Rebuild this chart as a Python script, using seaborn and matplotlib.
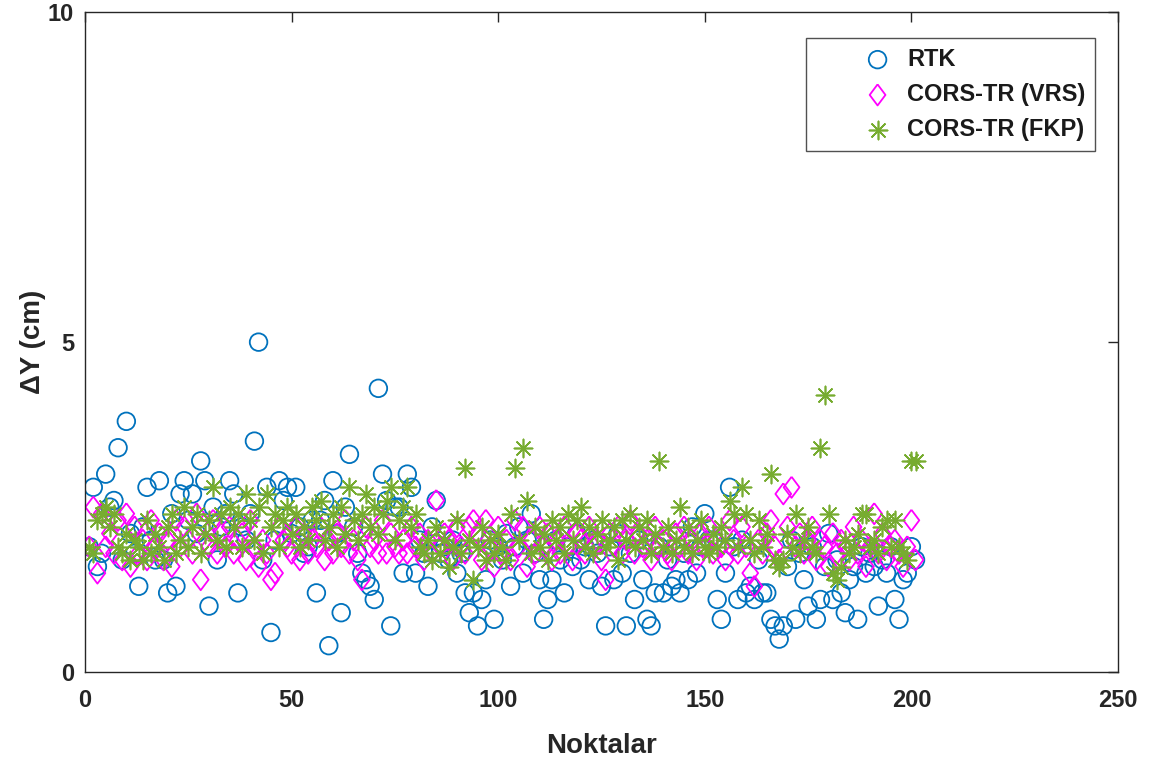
import numpy as np
import pandas as pd
import matplotlib
matplotlib.use("Agg")
import matplotlib.pyplot as plt
import seaborn as sns

rtk = [1.9, 2.8, 1.6, 1.8, 3.0, 2.5, 2.6, 3.4, 1.7, 3.8,
       2.1, 1.8, 1.3, 2.2, 2.8, 2.0, 1.7, 2.9, 1.7, 1.2,
       2.4, 1.3, 2.7, 2.9, 2.3, 2.7, 2.1, 3.2, 2.9, 1.0,
       2.5, 1.7, 2.2, 2.4, 2.9, 2.7, 1.2, 2.2, 2.0, 2.4,
       3.5, 5.0, 1.7, 2.8, 0.6, 2.0, 2.9, 2.6, 2.8, 2.1,
       2.8, 2.2, 1.8, 1.9, 2.3, 1.2, 2.3, 2.6, 0.4, 2.9,
       2.1, 0.9, 2.5, 3.3, 2.2, 1.8, 1.5, 1.4, 1.3, 1.1,
       4.3, 3.0, 2.6, 0.7, 2.5, 2.5, 1.5, 3.0, 2.8, 1.5,
       2.0, 1.8, 1.3, 2.2, 2.6, 1.8, 1.9, 1.7, 2.0, 1.5,
       1.8, 1.2, 0.9, 1.2, 0.7, 1.1, 1.4, 2.0, 0.8, 1.9,
       1.7, 2.1, 1.3, 1.9, 2.2, 1.5, 2.0, 2.4, 1.8, 1.4,
       0.8, 1.1, 1.4, 2.0, 1.7, 1.2, 1.9, 1.6, 2.1, 1.7,
       1.9, 1.4, 2.0, 1.8, 1.3, 0.7, 1.9, 1.4, 2.1, 1.5,
       0.7, 1.8, 1.1, 2.0, 1.4, 0.8, 0.7, 1.2, 1.9, 1.2,
       1.7, 1.3, 1.4, 1.2, 1.8, 1.4, 2.2, 1.5, 1.9, 2.4,
       2.0, 2.0, 1.1, 0.8, 1.5, 2.8, 1.9, 1.1, 2.0, 1.2,
       1.3, 1.1, 1.7, 1.2, 1.2, 0.8, 0.7, 0.5, 0.7, 1.6,
       2.0, 0.8, 1.8, 1.4, 1.0, 1.9, 0.8, 1.1, 1.6, 2.1,
       1.1, 1.7, 1.2, 0.9, 1.4, 1.6, 0.8, 1.9, 1.5, 1.8,
       1.6, 1.0, 1.7, 1.5, 1.9, 1.1, 0.8, 1.4, 1.5, 1.9,
       1.7]

vrs = [1.9, 2.5, 1.5, 2.4, 1.9, 2.1, 1.8, 2.3, 1.7, 2.4,
       1.6, 2.2, 1.8, 2.0, 1.7, 2.3, 1.9, 2.1, 1.7, 2.0,
       1.6, 2.3, 1.9, 2.2, 2.0, 1.8, 2.4, 1.4, 2.0, 1.9,
       2.3, 1.8, 2.1, 1.9, 2.2, 1.8, 2.0, 2.1, 1.7, 2.3,
       1.9, 1.6, 2.0, 1.8, 1.4, 1.5, 2.2, 2.0, 1.9, 1.8,
       2.2, 1.7, 2.1, 1.8, 2.0, 1.9, 2.2, 1.7, 2.0, 1.8,
       2.1, 1.9, 2.3, 1.8, 2.0, 1.7, 1.4, 2.2, 1.9, 2.0,
       1.8, 2.3, 1.8, 2.1, 1.9, 1.8, 2.0, 1.8, 2.2, 1.9,
       2.1, 1.7, 2.0, 1.8, 2.6, 1.9, 2.1, 2.0, 1.7, 2.2,
       1.9, 1.8, 2.2, 2.3, 2.1, 1.7, 2.3, 1.9, 1.6, 2.2,
       1.8, 2.0, 1.7, 2.3, 1.9, 2.2, 1.6, 2.0, 1.8, 2.2,
       1.9, 2.1, 1.7, 2.0, 1.8, 2.2, 1.9, 1.7, 2.1, 2.0,
       1.8, 2.2, 1.9, 2.0, 1.7, 1.4, 2.1, 1.9, 2.2, 1.8,
       2.0, 2.3, 1.8, 2.1, 1.9, 2.0, 1.7, 2.2, 1.9, 2.0,
       1.8, 1.7, 2.1, 1.9, 2.2, 1.8, 2.0, 1.7, 2.1, 1.9,
       2.2, 1.8, 2.0, 1.9, 1.7, 2.3, 2.0, 1.8, 2.2, 1.9,
       1.5, 1.3, 2.0, 1.8, 2.1, 2.3, 1.9, 1.7, 2.7, 2.2,
       2.8, 1.9, 2.1, 1.8, 2.0, 2.2, 1.7, 2.0, 1.9, 1.6,
       2.1, 1.8, 2.0, 1.9, 1.7, 2.2, 1.8, 2.0, 1.6, 1.9,
       2.4, 1.8, 2.1, 1.7, 1.9, 2.0, 1.8, 1.6, 1.9, 2.3,
       1.7]

fkp = [1.9, 1.8, 2.3, 2.4, 2.5, 2.2, 2.4, 1.9, 1.8, 2.1,
       1.7, 2.0, 1.9, 1.7, 2.3, 1.8, 2.1, 1.9, 1.7, 2.2,
       2.4, 1.8, 2.0, 2.5, 1.9, 2.2, 2.4, 1.8, 2.1, 2.3,
       2.8, 2.0, 2.4, 1.9, 2.5, 2.2, 2.4, 1.9, 2.7, 2.3,
       2.0, 2.5, 1.8, 2.7, 2.2, 2.4, 1.9, 2.3, 2.5, 2.1,
       2.4, 1.9, 2.2, 2.0, 2.5, 2.3, 2.6, 2.0, 2.2, 2.4,
       1.9, 2.5, 2.1, 2.8, 2.3, 2.0, 2.4, 2.7, 2.2, 2.5,
       2.1, 2.4, 2.6, 2.8, 2.0, 2.3, 2.5, 2.8, 2.2, 2.4,
       1.9, 1.8, 2.0, 1.7, 2.2, 1.8, 2.0, 1.6, 1.9, 2.3,
       1.8, 3.1, 2.0, 1.4, 1.9, 2.2, 1.7, 2.0, 1.8, 2.1,
       1.9, 1.7, 2.4, 3.1, 2.0, 3.4, 2.6, 1.8, 2.2, 1.9,
       2.1, 1.7, 2.3, 2.0, 2.2, 1.8, 2.4, 2.0, 2.3, 2.5,
       1.9, 2.2, 1.8, 2.1, 2.3, 1.9, 2.0, 2.2, 1.7, 2.3,
       2.0, 2.4, 1.9, 2.2, 2.0, 2.3, 1.8, 2.1, 3.2, 1.9,
       2.2, 1.8, 2.0, 2.5, 1.9, 2.2, 1.8, 2.0, 2.3, 1.9,
       1.8, 2.1, 1.9, 2.2, 2.0, 2.6, 2.4, 1.9, 2.8, 2.4,
       2.0, 1.8, 2.3, 1.9, 2.1, 3.0, 1.7, 1.6, 1.7, 2.1,
       1.9, 2.4, 1.8, 2.0, 2.2, 1.9, 1.8, 3.4, 4.2, 2.4,
       1.5, 1.4, 1.6, 2.0, 1.8, 1.9, 2.1, 2.4, 2.4, 1.9,
       2.0, 1.8, 2.2, 2.3, 1.9, 2.3, 1.9, 1.8, 1.7, 3.2,
       3.2]

points = list(range(1, len(rtk) + 1))
series_names = ["RTK", "CORS-TR (VRS)", "CORS-TR (FKP)"]
colors = ["#0072BD", "#FF00FF", "#77AC30"]

sns.set_style("white")
plt.rcParams["font.family"] = ["Liberation Sans", "DejaVu Sans"]
plt.rcParams["font.weight"] = "bold"

fig = plt.figure(figsize=(11.49, 7.62), dpi=100)
ax = fig.add_axes([0.074, 0.118, 0.899, 0.866])

diamond = [(0, 1), (0.75, 0), (0, -1), (-0.75, 0), (0, 1)]
specs = [
    (rtk, "o", 160, 1.3, True),
    (vrs, diamond, 230, 1.3, True),
    (fkp, (8, 2, 0), 170, 1.2, False),
]
for (vals, mk, s, lw, hollow), name, c in zip(specs, series_names, colors):
    df = pd.DataFrame({"Noktalar": points, "dY": vals})
    if hollow:
        sns.scatterplot(data=df, x="Noktalar", y="dY", ax=ax, marker=mk, s=s,
                        facecolor="none", edgecolor=c, linewidth=lw,
                        label=name)
    else:
        sns.scatterplot(data=df, x="Noktalar", y="dY", ax=ax, marker=mk, s=s,
                        color=c, linewidth=lw, label=name)

ax.set_xlim(0, 250)
ax.set_ylim(0, 10)
ax.set_xticks([0, 50, 100, 150, 200, 250])
ax.set_yticks([0, 5, 10])
ax.tick_params(direction="in", top=True, right=True, length=7, width=1,
               labelsize=17, colors="#262626")
ax.tick_params(axis="x", pad=12)
ax.tick_params(axis="y", pad=8)
for lab in ax.get_xticklabels() + ax.get_yticklabels():
    lab.set_fontweight("bold")
for sp in ax.spines.values():
    sp.set_color("#262626")
    sp.set_linewidth(1.0)
ax.set_xlabel("Noktalar", fontsize=20, fontweight="bold", color="#262626",
              labelpad=15)
ax.set_ylabel("ΔY (cm)", fontsize=20, fontweight="bold", color="#262626",
              labelpad=1)

leg = ax.legend(loc="upper right", frameon=True, fancybox=False,
                edgecolor="#262626", fontsize=17, borderpad=0.42,
                handlelength=5.2, handletextpad=-1.35, labelspacing=0.52,
                bbox_to_anchor=(0.978, 0.961), borderaxespad=0)
leg.get_frame().set_linewidth(1.0)
for t in leg.get_texts():
    t.set_fontweight("bold")
    t.set_color("#1a1a1a")

fig.savefig("out.png", dpi=100)
